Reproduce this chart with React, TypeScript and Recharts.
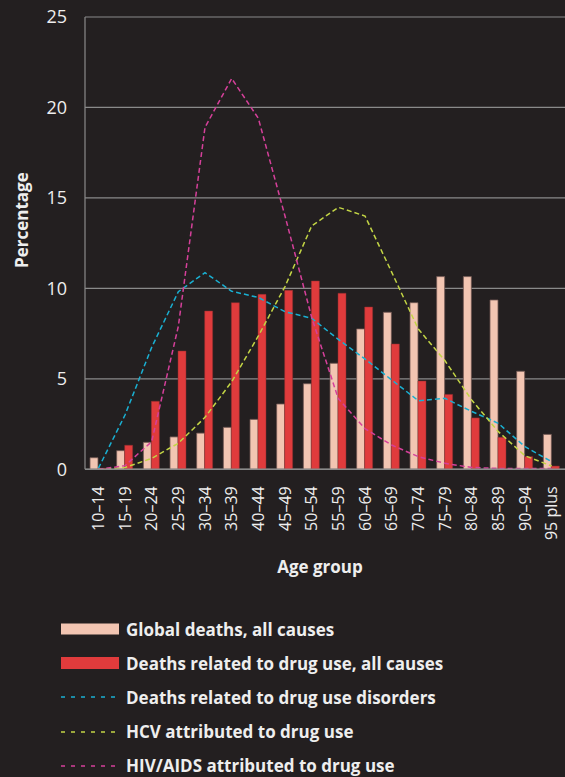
import React from "react";
import { ComposedChart, Bar, Line, XAxis, YAxis, CartesianGrid, Legend } from "recharts";

const ageGroups = [
  "10–14", "15–19", "20–24", "25–29", "30–34", "35–39", "40–44", "45–49", "50–54",
  "55–59", "60–64", "65–69", "70–74", "75–79", "80–84", "85–89", "90–94", "95 plus",
];
const globalDeaths = [0.64, 1.03, 1.49, 1.79, 2.0, 2.32, 2.76, 3.61, 4.73, 5.86, 7.76, 8.68, 9.21, 10.65, 10.65, 9.36, 5.42, 1.93];
const drugUseDeaths = [0.06, 1.33, 3.76, 6.54, 8.75, 9.21, 9.67, 9.89, 10.41, 9.73, 8.97, 6.93, 4.88, 4.14, 2.84, 1.77, 0.7, 0.18];
const disorderDeaths = [0.05, 3.0, 6.74, 9.82, 10.87, 9.84, 9.5, 8.71, 8.35, 7.18, 6.1, 4.94, 3.79, 3.92, 3.2, 2.54, 1.25, 0.42];
const hcvDeaths = [0, 0.1, 0.6, 1.44, 2.87, 4.84, 7.37, 10.1, 13.45, 14.48, 14.0, 10.9, 7.75, 6.0, 3.83, 2.08, 0.75, 0.18];
const hivDeaths = [0, 0.2, 1.53, 7.9, 18.9, 21.6, 19.4, 14.0, 8.4, 3.9, 2.25, 1.34, 0.7, 0.33, 0.1, 0.05, 0.05, 0.05];
const yTicks = [0, 5, 10, 15, 20, 25];

const seriesLabels = {
  global: "Global deaths, all causes",
  drug: "Deaths related to drug use, all causes",
  disorders: "Deaths related to drug use disorders",
  hcv: "HCV attributed to drug use",
  hiv: "HIV/AIDS attributed to drug use",
};

const data = ageGroups.map((group, i) => ({
  group,
  global: globalDeaths[i],
  drug: drugUseDeaths[i],
  disorders: disorderDeaths[i],
  hcv: hcvDeaths[i],
  hiv: hivDeaths[i],
}));

const BG = "#231f20";
const TEXT = "#eeeeee";
const GRID = "#8a8a8a";
const FONT = "'Open Sans', sans-serif";
const PINK = "#f2c5b2";
const RED = "#e03b3c";
const CYAN = "#1ab0d2";
const YELLOW = "#c3d545";
const MAGENTA = "#d5409a";

const legendItems = [
  { key: "global", kind: "bar", color: PINK, h: 11 },
  { key: "drug", kind: "bar", color: RED, h: 12 },
  { key: "disorders", kind: "line", color: CYAN, h: 0 },
  { key: "hcv", kind: "line", color: YELLOW, h: 0 },
  { key: "hiv", kind: "line", color: MAGENTA, h: 0 },
];

const XTick = (props: any) => {
  const { x, y, payload } = props;
  return (
    <text
      x={x}
      y={y}
      transform={`rotate(-90 ${x} ${y})`}
      textAnchor="end"
      dy="0.36em"
      fill={TEXT}
      fontSize={16}
      fontFamily={FONT}
    >
      {payload.value}
    </text>
  );
};

const PercentLabel = (props: any) => {
  const vb = props.viewBox || { x: 0, y: 17, width: 85, height: 452 };
  const cx = vb.x + 21.5;
  const cy = vb.y + vb.height / 2 - 23;
  return (
    <text
      x={cx}
      y={cy}
      transform={`rotate(-90 ${cx} ${cy})`}
      textAnchor="middle"
      dy="0.36em"
      fill={TEXT}
      fontSize={17}
      fontWeight={700}
      fontFamily={FONT}
    >
      Percentage
    </text>
  );
};

const AgeLabel = (props: any) => {
  const vb = props.viewBox || { x: 85, y: 469, width: 480, height: 300 };
  return (
    <text
      x={vb.x + vb.width / 2 - 5}
      y={vb.y + 104}
      textAnchor="middle"
      fill={TEXT}
      fontSize={17}
      fontWeight={700}
      fontFamily={FONT}
    >
      Age group
    </text>
  );
};

const renderLegend = () => (
  <div style={{ fontFamily: FONT, fontWeight: 700, fontSize: 17, color: TEXT }}>
    {legendItems.map((item) => (
      <div key={item.key} style={{ display: "flex", alignItems: "center", height: 34.2 }}>
        <svg width={58} height={14} style={{ marginLeft: 61, marginRight: 7, flex: "none", display: "block" }}>
          {item.kind === "bar" ? (
            <rect x={0} y={(14 - item.h) / 2} width={58} height={item.h} fill={item.color} />
          ) : (
            <line x1={0} y1={7} x2={58} y2={7} stroke={item.color} strokeWidth={1.5} strokeDasharray="4 6" />
          )}
        </svg>
        <span style={{ lineHeight: 1, whiteSpace: "nowrap" }}>{(seriesLabels as any)[item.key]}</span>
      </div>
    ))}
  </div>
);

export default function App() {
  return (
    <div
      style={{
        position: "absolute",
        left: 0,
        top: 0,
        width: 565,
        height: 777,
        background: BG,
        overflow: "hidden",
      }}
    >
      <ComposedChart
        width={565}
        height={777}
        data={data}
        margin={{ top: 17, right: 0, bottom: 0, left: 0 }}
        barGap={0}
        barSize={8}
      >
        <CartesianGrid vertical={false} stroke={GRID} strokeWidth={1.2} />
        <XAxis
          dataKey="group"
          height={307.7}
          interval={0}
          tick={<XTick />}
          tickLine={false}
          tickSize={0}
          tickMargin={17}
          axisLine={{ stroke: GRID, strokeWidth: 1.5 }}
          label={<AgeLabel />}
        />
        <YAxis
          width={85}
          domain={[0, 25]}
          ticks={yTicks}
          interval={0}
          tick={{ fill: TEXT, fontSize: 18, fontFamily: FONT }}
          tickLine={false}
          tickSize={0}
          tickMargin={18}
          axisLine={{ stroke: GRID, strokeWidth: 1.2 }}
          label={<PercentLabel />}
        />
        <Bar dataKey="global" name={seriesLabels.global} fill={PINK} stroke="#6e5650" strokeWidth={0.8} isAnimationActive={false} />
        <Bar dataKey="drug" name={seriesLabels.drug} fill={RED} stroke="#8a2e2e" strokeWidth={0.5} isAnimationActive={false} />
        <Line type="linear" dataKey="disorders" name={seriesLabels.disorders} stroke={CYAN} strokeWidth={1.5} strokeDasharray="5 3" dot={false} activeDot={false} isAnimationActive={false} />
        <Line type="linear" dataKey="hcv" name={seriesLabels.hcv} stroke={YELLOW} strokeWidth={1.5} strokeDasharray="5 3" dot={false} activeDot={false} isAnimationActive={false} />
        <Line type="linear" dataKey="hiv" name={seriesLabels.hiv} stroke={MAGENTA} strokeWidth={1.5} strokeDasharray="5 3" dot={false} activeDot={false} isAnimationActive={false} />
        <Legend
          layout="vertical"
          align="center"
          verticalAlign="middle"
          content={renderLegend}
          wrapperStyle={{ left: 0, top: 612, width: 565 }}
        />
      </ComposedChart>
    </div>
  );
}
